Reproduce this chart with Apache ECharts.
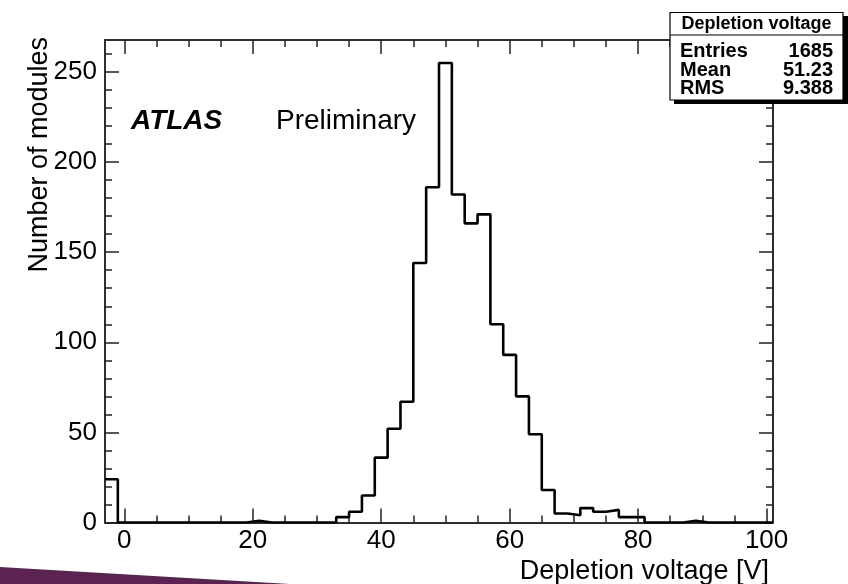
<!DOCTYPE html>
<html>
<head>
<meta charset="utf-8">
<script src="https://cdn.jsdelivr.net/npm/echarts@6/dist/echarts.min.js"></script>
<style>
html,body{margin:0;padding:0;background:#fff;}
#chart{width:848px;height:584px;}
</style>
</head>
<body>
<div id="chart"></div>
<script>
// Histogram bin low edges (bin width 2 V) and the final upper edge
const binLowEdges = [-3,-1,1,3,5,7,9,11,13,15,17,19,21,23,25,27,29,31,33,35,37,39,41,43,45,47,49,51,53,55,57,59,61,63,65,67,69,71,73,75,77,79,81,83,85,87,89,91,93,95,97,99];
const binUpperEdge = 101;
const counts = [24,0,0,0,0,0,0,0,0,0,0,1,0,0,0,0,0,0,3,6,15,36,52,67,144,186,255,182,166,171,110,93,70,49,18,5,4,8,6,7,3,3,0,0,0,1,0,0,0,0,0,0];
const xMajorTicks = [0,20,40,60,80,100];
const xMinorTicks = [0,5,10,15,20,25,30,35,40,45,50,55,60,65,70,75,80,85,90,95,100];
const yMajorTicks = [0,50,100,150,200,250];
const yMinorTicks = [0,10,20,30,40,50,60,70,80,90,100,110,120,130,140,150,160,170,180,190,200,210,220,230,240,250,260];
const xRange = [-3, 101];
const yRange = [0, 267.75];
const statsTitle = 'Depletion voltage';
const statsRows = [['Entries','1685'],['Mean','51.23'],['RMS','9.388']];

const FONT = '"Liberation Sans", Arial, Helvetica, sans-serif';
const axisCol = '#222';

const histData = binLowEdges.map((e, i) => [e, counts[i]]);
histData.push([binUpperEdge, counts[counts.length - 1]]);

function xAx(pos, ticks, len, labels) {
  return {
    type: 'value', min: xRange[0], max: xRange[1], position: pos,
    axisLine: {show: true, onZero: false, lineStyle: {color: axisCol, width: 1.5}},
    axisTick: {show: true, inside: true, length: len, customValues: ticks, lineStyle: {color: axisCol, width: 1.5}},
    axisLabel: labels ? {show: true, customValues: xMajorTicks, color: '#000', fontFamily: FONT, fontSize: 26, margin: 5} : {show: false},
    splitLine: {show: false}
  };
}
function yAx(pos, ticks, len, labels) {
  return {
    type: 'value', min: yRange[0], max: yRange[1], position: pos,
    axisLine: {show: true, onZero: false, lineStyle: {color: axisCol, width: 1.5}},
    axisTick: {show: true, inside: true, length: len, customValues: ticks, lineStyle: {color: axisCol, width: 1.5}},
    axisLabel: labels ? {show: true, customValues: yMajorTicks, color: '#000', fontFamily: FONT, fontSize: 26, margin: 8} : {show: false},
    splitLine: {show: false}
  };
}

const chart = echarts.init(document.getElementById('chart'), null, {renderer: 'canvas'});
const statsChildren = [
  {type: 'rect', z: 100, shape: {x: 674, y: 16, width: 174, height: 88}, style: {fill: '#000'}},
  {type: 'rect', z: 101, shape: {x: 670, y: 12.5, width: 173, height: 87.5}, style: {fill: '#fff', stroke: '#000', lineWidth: 1.2}},
  {type: 'line', z: 102, shape: {x1: 670, y1: 35, x2: 843, y2: 35}, style: {stroke: '#000', lineWidth: 1.2}},
  {type: 'text', z: 102, x: 756.5, y: 24.5, style: {text: statsTitle, font: 'bold 18px ' + FONT, fill: '#000', align: 'center', verticalAlign: 'middle'}}
];
const rowY = [51, 70, 88];
statsRows.forEach((r, i) => {
  statsChildren.push({type: 'text', z: 102, x: 680, y: rowY[i], style: {text: r[0], font: 'bold 20px ' + FONT, fill: '#000', align: 'left', verticalAlign: 'middle'}});
  statsChildren.push({type: 'text', z: 102, x: 833, y: rowY[i], style: {text: r[1], font: 'bold 20px ' + FONT, fill: '#000', align: 'right', verticalAlign: 'middle'}});
});

chart.setOption({
  animation: false,
  backgroundColor: '#fff',
  grid: {left: 105, top: 40, width: 668, height: 482.5, show: false, containLabel: false},
  xAxis: [
    xAx('bottom', xMajorTicks, 14, true),
    xAx('bottom', xMinorTicks, 7, false),
    xAx('top', xMajorTicks, 14, false),
    xAx('top', xMinorTicks, 7, false)
  ],
  yAxis: [
    yAx('left', yMajorTicks, 14, true),
    yAx('left', yMinorTicks, 7, false),
    yAx('right', yMajorTicks, 14, false),
    yAx('right', yMinorTicks, 7, false)
  ],
  series: [{
    type: 'line', xAxisIndex: 0, yAxisIndex: 0,
    step: 'end', symbol: 'none', clip: true,
    lineStyle: {color: '#000', width: 2.6},
    data: histData,
    z: 5
  }],
  graphic: [
    {type: 'polygon', shape: {points: [[0, 567], [290, 584], [0, 584]]}, style: {fill: '#5c2352'}, z: 1},
    {type: 'text', x: 131, y: 121, style: {text: 'ATLAS', font: 'italic bold 28px ' + FONT, fill: '#000', align: 'left', verticalAlign: 'middle'}},
    {type: 'text', x: 276, y: 121, style: {text: 'Preliminary', font: '28px ' + FONT, fill: '#000', align: 'left', verticalAlign: 'middle'}},
    {type: 'text', x: 769, y: 572, style: {text: 'Depletion voltage [V]', font: '27px ' + FONT, fill: '#000', align: 'right', verticalAlign: 'middle'}},
    {type: 'text', x: 40, y: 37, rotation: Math.PI / 2, style: {text: 'Number of modules', font: '27px ' + FONT, fill: '#000', align: 'right', verticalAlign: 'middle'}},
    {type: 'group', zlevel: 5, z: 100, children: statsChildren}
  ]
});
</script>
</body>
</html>
